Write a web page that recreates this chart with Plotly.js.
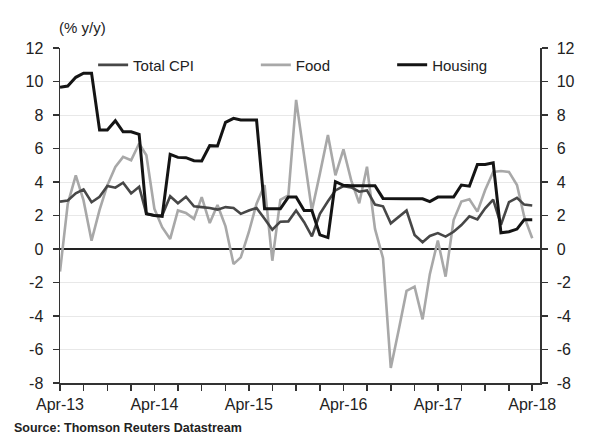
<!DOCTYPE html>
<html>
<head>
<meta charset="utf-8">
<script src="https://cdn.plot.ly/plotly-3.0.1.min.js"></script>
<style>
html,body{margin:0;padding:0;background:#fff;}
#chart{width:599px;height:435px;}
</style>
</head>
<body>
<div id="chart"></div>
<script>
// Monthly observations, Apr-2013 .. Apr-2018
const startMonth = "2013-04";
const totalCPI = [2.83,2.89,3.32,3.56,2.79,3.12,3.76,3.66,3.96,3.32,3.72,2.1,2.0,2.0,3.15,2.73,3.12,2.55,2.5,2.45,2.35,2.5,2.45,2.1,2.3,2.45,1.8,1.15,1.63,1.65,2.3,1.6,0.75,2.1,2.85,3.5,3.75,3.68,3.42,3.5,2.65,2.55,1.53,1.93,2.3,0.84,0.4,0.78,0.95,0.74,1.03,1.43,1.95,1.77,2.43,2.95,1.45,2.8,3.05,2.65,2.6];
const food = [-1.35,2.7,4.4,2.9,0.5,2.33,3.8,4.9,5.5,5.3,6.3,5.6,2.4,1.3,0.6,2.3,2.15,1.8,3.1,1.55,2.63,1.35,-0.9,-0.5,1.0,2.7,3.82,-0.7,2.93,3.2,8.9,5.6,2.3,4.5,6.8,4.4,5.95,4.1,2.73,4.91,1.2,-0.55,-7.1,-4.8,-2.5,-2.25,-4.2,-1.5,0.5,-1.65,1.73,2.83,2.97,2.23,3.52,4.6,4.66,4.6,3.82,1.93,0.64];
const housing = [9.65,9.73,10.25,10.5,10.5,7.1,7.1,7.66,7.0,7.0,6.85,2.1,2.0,1.95,5.65,5.47,5.45,5.27,5.25,6.17,6.15,7.56,7.8,7.7,7.7,7.7,2.4,2.4,2.4,3.1,3.1,2.3,2.3,0.84,0.68,4.02,3.8,3.78,3.78,3.78,3.78,3.02,3.0,3.0,3.0,3.0,3.0,2.83,3.1,3.1,3.1,3.82,3.75,5.05,5.05,5.15,0.97,1.03,1.19,1.75,1.75];
const yTicks = [-8,-6,-4,-2,0,2,4,6,8,10,12];
const yTickText = ["-8","-6","-4","-2","0","2","4","6","8","10","12"];

// month dates for x
const months = [];
{
  let y = parseInt(startMonth.slice(0,4)), m = parseInt(startMonth.slice(5,7));
  for (let k = 0; k < totalCPI.length; k++) {
    months.push(y + "-" + String(m).padStart(2,"0") + "-01");
    m++; if (m > 12) { m = 1; y++; }
  }
}

const FONT = "Liberation Sans, Arial, sans-serif";
const traces = [
  {x: months, y: food, name: "Food", type: "scatter", mode: "lines",
   line: {color: "#a8a8a8", width: 2.6}, legend: "legend2", hoverinfo: "skip"},
  {x: months, y: totalCPI, name: "Total CPI", type: "scatter", mode: "lines",
   line: {color: "#474747", width: 2.6}, legend: "legend", hoverinfo: "skip"},
  {x: months, y: housing, name: "Housing", type: "scatter", mode: "lines",
   line: {color: "#141414", width: 3}, legend: "legend3", hoverinfo: "skip"},
  {x: [months[0]], y: [null], yaxis: "y2", showlegend: false, hoverinfo: "skip", mode: "lines"}
];

const legBase = {orientation: "h", bgcolor: "rgba(0,0,0,0)", font: {family: FONT, size: 15, color: "#222"},
  xanchor: "left", yanchor: "middle", y: 0.949, borderwidth: 0};

const layout = {
  width: 599, height: 435,
  margin: {l: 60, r: 59, t: 48, b: 52},
  paper_bgcolor: "#fff", plot_bgcolor: "#fff",
  font: {family: FONT, size: 15, color: "#222"},
  showlegend: true,
  legend: Object.assign({}, legBase, {x: 0.069}),
  legend2: Object.assign({}, legBase, {x: 0.408}),
  legend3: Object.assign({}, legBase, {x: 0.692}),
  xaxis: {
    type: "date", range: ["2013-04-01", "2018-05-01"],
    tick0: "2013-04-01", dtick: "M12", tickformat: "%b-%y",
    ticks: "outside", ticklen: 6, tickwidth: 1.5, tickcolor: "#333",
    minor: {ticks: "outside", dtick: "M3", ticklen: 6, tickwidth: 1.5, tickcolor: "#333", showgrid: false},
    showline: true, linecolor: "#333", linewidth: 1.5,
    showgrid: false, zeroline: false,
    tickfont: {family: FONT, size: 16, color: "#222"}, fixedrange: true
  },
  yaxis: {
    range: [-8, 12], tickvals: yTicks, ticktext: yTickText,
    ticks: "outside", ticklen: 6, tickwidth: 1.5, tickcolor: "#333",
    showline: true, linecolor: "#333", linewidth: 1.5,
    showgrid: true, gridcolor: "#e8e8e8", gridwidth: 1,
    zeroline: true, zerolinecolor: "#222", zerolinewidth: 1.5,
    tickfont: {family: FONT, size: 16, color: "#222"}, ticklabelstandoff: 6
  },
  yaxis2: {
    overlaying: "y", side: "right", range: [-8, 12], tickvals: yTicks, ticktext: yTickText,
    ticks: "outside", ticklen: 6, tickwidth: 1.5, tickcolor: "#333",
    showline: true, linecolor: "#333", linewidth: 1.5,
    showgrid: false, zeroline: false,
    tickfont: {family: FONT, size: 16, color: "#222"}, ticklabelstandoff: 6
  },
  annotations: [
    {text: "(% y/y)", xref: "paper", yref: "paper", x: -0.006, y: 1.062,
     xanchor: "left", yanchor: "middle", showarrow: false,
     font: {family: FONT, size: 15, color: "#222"}},
    {text: "<b>Source: Thomson Reuters Datastream</b>", xref: "paper", yref: "paper", x: -0.1, y: -0.134,
     xanchor: "left", yanchor: "middle", showarrow: false,
     font: {family: FONT, size: 12.5, color: "#222"}}
  ]
};

Plotly.newPlot("chart", traces, layout, {displayModeBar: false, staticPlot: true});
</script>
</body>
</html>
